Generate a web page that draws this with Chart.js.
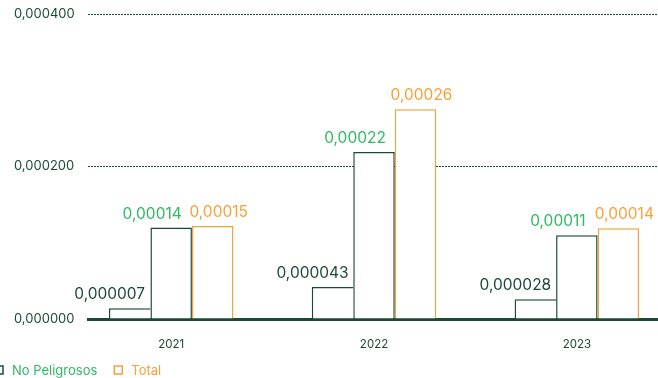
<!DOCTYPE html>
<html>
<head>
<meta charset="utf-8">
<script src="https://cdn.jsdelivr.net/npm/chart.js@4.4.0/dist/chart.umd.min.js"></script>
<style>
  html, body { margin: 0; padding: 0; background: #fff; overflow: hidden; }
  #wrap { position: relative; width: 658px; height: 378px; }
</style>
</head>
<body>
<div id="wrap"><canvas id="grafico" width="658" height="378"></canvas></div>
<script>
// datos del gráfico
const anos = ['2021', '2022', '2023'];
const peligrosos = [0.000014, 0.000042, 0.000026];
const noPeligrosos = [0.000120, 0.000219, 0.000110];
const total = [0.000122, 0.000275, 0.000119];
const rotulosPeligrosos = ['0,000007', '0,000043', '0,000028'];
const rotulosNoPeligrosos = ['0,00014', '0,00022', '0,00011'];
const rotulosTotal = ['0,00015', '0,00026', '0,00014'];
const ticksY = [0, 0.0002, 0.0004];

const verdeOscuro = '#1b4a34';
const verde = '#2fb964';
const naranja = '#f8a13a';
const fuente = 'Inter, "DejaVu Sans", sans-serif';

const series = [
    { label: 'Peligrosos', data: peligrosos, rotulos: rotulosPeligrosos, borde: verdeOscuro, texto: verdeOscuro, desplaza: -20,
      bordes: { top: 1.5, left: 1.5, right: 0, bottom: 0 } },
    { label: 'No Peligrosos', data: noPeligrosos, rotulos: rotulosNoPeligrosos, borde: verdeOscuro, texto: verde, desplaza: -19,
      bordes: { top: 1.5, left: 1.5, right: 1.5, bottom: 0 } },
    { label: 'Total', data: total, rotulos: rotulosTotal, borde: naranja, texto: naranja, desplaza: 6,
      bordes: { top: 1.5, left: 1.5, right: 1.5, bottom: 0 } }
];

// Rótulos encima de cada barra
const rotulosPlugin = {
    id: 'rotulos',
    afterDatasetsDraw(chart) {
        const ctx = chart.ctx;
        ctx.save();
        ctx.font = '15.5px ' + fuente;
        ctx.textAlign = 'center';
        ctx.textBaseline = 'alphabetic';
        series.forEach((s, d) => {
            const meta = chart.getDatasetMeta(d);
            meta.data.forEach((bar, i) => {
                ctx.fillStyle = s.texto;
                ctx.fillText(s.rotulos[i], bar.x + s.desplaza, bar.y - 9);
            });
        });
        ctx.restore();
    }
};

// Leyenda propia (la primera entrada queda fuera del lienzo)
const leyendaPlugin = {
    id: 'leyenda',
    afterDraw(chart) {
        const ctx = chart.ctx;
        ctx.save();
        ctx.font = '13px ' + fuente;
        ctx.textBaseline = 'middle';
        const caja = 8, separa = 9, entre = 17, yc = 371;
        const anchos = series.map(s => caja + separa + ctx.measureText(s.label).width + entre);
        let x = -5 - anchos[0];
        series.forEach((s, d) => {
            ctx.strokeStyle = s.borde;
            ctx.lineWidth = 1.5;
            ctx.fillStyle = '#fff';
            ctx.fillRect(x, yc - caja / 2 - 1, caja, caja);
            ctx.strokeRect(x, yc - caja / 2 - 1, caja, caja);
            ctx.fillStyle = s.texto;
            ctx.textAlign = 'left';
            ctx.fillText(s.label, x + caja + separa, yc);
            x += anchos[d];
        });
        ctx.restore();
    }
};

const ctx = document.getElementById('grafico').getContext('2d');
new Chart(ctx, {
    type: 'bar',
    data: {
        datasets: series.map(s => ({
            label: s.label,
            data: s.data.map((v, i) => ({ x: i, y: v })),
            backgroundColor: '#ffffff',
            borderColor: s.borde,
            borderWidth: s.bordes,
            borderSkipped: false,
            inflateAmount: 0,
            barThickness: 41.5
        }))
    },
    options: {
        responsive: false,
        animation: false,
        layout: { padding: { left: 14, right: 0, top: 14, bottom: 0 } },
        plugins: {
            legend: { display: false },
            tooltip: { enabled: false }
        },
        scales: {
            x: {
                type: 'linear',
                offset: false,
                min: -0.41,
                max: 2.40,
                afterBuildTicks: scale => { scale.ticks = anos.map((a, i) => ({ value: i })); },
                afterFit: scale => { scale.height = 59; },
                grid: { display: false, offset: false },
                border: { display: true, color: verdeOscuro, width: 3 },
                ticks: {
                    padding: 11,
                    color: verdeOscuro,
                    font: { family: fuente, size: 11.5 },
                    callback: v => anos[v]
                }
            },
            y: {
                min: 0,
                max: 0.0004,
                afterBuildTicks: scale => { scale.ticks = ticksY.map(v => ({ value: v })); },
                afterFit: scale => { scale.width = 74; },
                grid: {
                    drawTicks: false,
                    color: c => (c.tick && c.tick.value === 0) ? 'rgba(0,0,0,0)' : verdeOscuro,
                    lineWidth: 1
                },
                border: { display: false, dash: [2, 1] },
                ticks: {
                    crossAlign: 'far',
                    color: verdeOscuro,
                    font: { family: fuente, size: 13 },
                    callback: v => v.toFixed(6).replace('.', ',')
                }
            }
        }
    },
    plugins: [rotulosPlugin, leyendaPlugin]
});
</script>
</body>
</html>
